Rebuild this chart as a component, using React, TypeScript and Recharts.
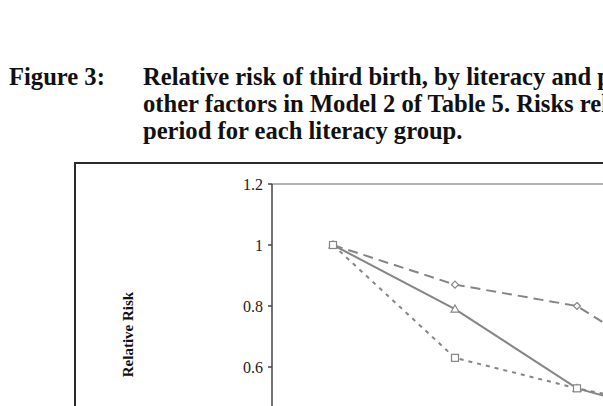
import { Line, LineChart, ReferenceLine, XAxis, YAxis } from "recharts";

const periods = ["Period 1", "Period 2", "Period 3", "Period 4", "Period 5"];
const literateRisk = [1, 0.87, 0.8, 0.55, 0.5];
const semiLiterateRisk = [1, 0.79, 0.53, 0.42, 0.4];
const illiterateRisk = [1, 0.63, 0.53, 0.45, 0.42];
const yTicks = [0.2, 0.4, 0.6, 0.8, 1, 1.2];

const titleLines = [
	"Relative risk of third birth, by literacy and period, controlling for",
	"other factors in Model 2 of Table 5. Risks relative to the first",
	"period for each literacy group.",
];

const GREY = "#858585";
const SERIF = "'Liberation Serif', 'Times New Roman', serif";

const data = periods.map((p, i) => ({
	period: p,
	literate: literateRisk[i],
	semi: semiLiterateRisk[i],
	illiterate: illiterateRisk[i],
}));

type DotProps = { cx?: number; cy?: number; index?: number };

const Diamond = ({ cx = 0, cy = 0, index }: DotProps) => (
	<path
		key={`d${index}`}
		d={`M${cx},${cy - 3.5} L${cx + 3.5},${cy} L${cx},${cy + 3.5} L${cx - 3.5},${cy} Z`}
		fill="#fff"
		stroke={GREY}
		strokeWidth={1.2}
	/>
);

const Triangle = ({ cx = 0, cy = 0, index }: DotProps) => (
	<path
		key={`t${index}`}
		d={`M${cx},${cy - 4} L${cx + 4},${cy + 3} L${cx - 4},${cy + 3} Z`}
		fill="#fff"
		stroke={GREY}
		strokeWidth={1.2}
	/>
);

const Square = ({ cx = 0, cy = 0, index }: DotProps) => (
	<rect
		key={`s${index}`}
		x={cx - 3.5}
		y={cy - 3.5}
		width={7}
		height={7}
		fill="#fff"
		stroke={GREY}
		strokeWidth={1.2}
	/>
);

export default function App() {
	return (
		<div
			style={{
				position: "absolute",
				left: 0,
				top: 0,
				width: 603,
				height: 406,
				overflow: "hidden",
				background: "#fff",
			}}
		>
			<svg width={603} height={160} style={{ position: "absolute", left: 0, top: 0 }}>
				<text x={9} y={85} fontFamily={SERIF} fontWeight="bold" fontSize={24.6} fill="#111">
					Figure 3:
				</text>
				{titleLines.map((t, i) => (
					<text
						key={i}
						x={143}
						y={85 + i * 27}
						fontFamily={SERIF}
						fontWeight="bold"
						fontSize={24.6}
						fill="#111"
					>
						{t}
					</text>
				))}
			</svg>
			<div
				style={{
					position: "absolute",
					left: 74,
					top: 162,
					width: 900,
					height: 600,
					border: "2px solid #2a2a2a",
					boxSizing: "border-box",
				}}
			/>
			<div style={{ position: "absolute", left: 0, top: 0 }}>
				<LineChart
					width={902}
					height={540}
					data={data}
					margin={{ top: 184, right: 20, bottom: 51, left: 212 }}
				>
					<XAxis
						dataKey="period"
						hide
						padding={{ left: 61, right: 61 }}
					/>
					<YAxis
						width={60}
						domain={[0.2, 1.2]}
						ticks={yTicks}
						tickFormatter={(v: number) => String(v)}
						tick={{ fontSize: 16, fill: "#222", fontFamily: SERIF }}
						tickSize={4}
						tickMargin={5}
						stroke="#444"
						strokeWidth={1.5}
						label={({ viewBox }: any) => (
							<text
								x={viewBox.x - 84}
								y={viewBox.y + viewBox.height / 2 - 2}
								transform={`rotate(-90 ${viewBox.x - 84} ${viewBox.y + viewBox.height / 2 - 2})`}
								textAnchor="middle"
								dominantBaseline="central"
								fontFamily={SERIF}
								fontWeight="bold"
								fontSize={15}
								fill="#111"
							>
								Relative Risk
							</text>
						)}
					/>
					<ReferenceLine y={1.2} stroke="#999" strokeWidth={1.5} />
					<Line
						dataKey="literate"
						type="linear"
						stroke={GREY}
						strokeWidth={2}
						strokeDasharray="10 6"
						dot={Diamond}
						isAnimationActive={false}
					/>
					<Line
						dataKey="semi"
						type="linear"
						stroke={GREY}
						strokeWidth={2}
						dot={Triangle}
						isAnimationActive={false}
					/>
					<Line
						dataKey="illiterate"
						type="linear"
						stroke={GREY}
						strokeWidth={2}
						strokeDasharray="4 5"
						dot={Square}
						isAnimationActive={false}
					/>
				</LineChart>
			</div>
		</div>
	);
}
